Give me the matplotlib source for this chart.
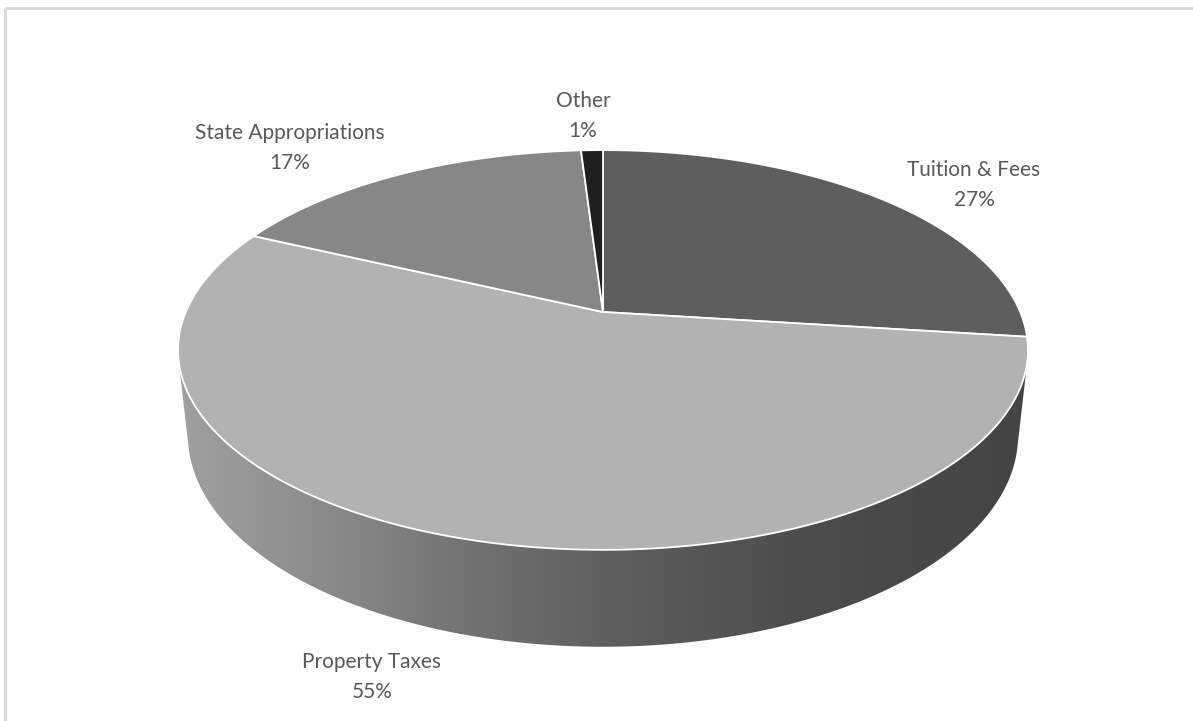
import numpy as np
import matplotlib
matplotlib.use("Agg")
from matplotlib import pyplot as plt
from matplotlib.patches import Polygon

# Daten
labels = ["Tuition & Fees", "Property Taxes", "State Appropriations", "Other"]
shares = [27, 55, 17, 1]
colors = ["#5e5e5e", "#b2b2b2", "#878787", "#1f1f1f"]
label_xy = [(974, 185), (372, 677), (290, 148), (583, 116)]

# 3D-Projektion (Pixelkoordinaten)
cx, cy = 603, 312
elev = np.radians(27.5)
dist = 4.669
focal = 1948
thick = 0.233


def project(t_deg, z=0.0):
    t = np.radians(t_deg)
    x, y = np.cos(t), np.sin(t)
    depth = y * np.cos(elev) + dist - z * np.sin(elev)
    sx = focal * x / depth
    sy = focal * (y * np.sin(elev) + z * np.cos(elev)) / depth
    return cx + sx, cy - sy


fig = plt.figure(figsize=(11.93, 7.21), dpi=100)
ax = fig.add_axes([0, 0, 1, 1])
ax.set_xlim(0, 1193)
ax.set_ylim(721, 0)
ax.axis("off")

# Rahmen
ax.plot([5, 5], [721, 8], color="#d9d9d9", lw=2.2, solid_capstyle="butt")
ax.plot([5, 1193], [8, 8], color="#d9d9d9", lw=2.2, solid_capstyle="butt")

total = float(sum(shares))
cum = np.concatenate([[0], np.cumsum(shares)]) / total
starts = 90 - 360 * cum[:-1]
ends = 90 - 360 * cum[1:]

# sichtbarer Bereich der Seitenwand
s0 = np.degrees(np.arcsin(-1 / (dist * np.cos(elev))))
vis_lo, vis_hi = -180 - s0, s0

# Schattierung der Wand entlang x
shade_x = [178, 300, 450, 600, 800, 1028]
shade_f = [0.90, 0.80, 0.66, 0.54, 0.43, 0.38]

for i in range(len(shares)):
    lo, hi = ends[i], starts[i]
    for shift in (-360, 0, 360):
        a, b = max(lo + shift, vis_lo), min(hi + shift, vis_hi)
        if a >= b:
            continue
        ts = np.linspace(a, b, 300)
        tx, ty = project(ts, 0)
        bx, by = project(ts[::-1], -thick)
        verts = np.column_stack([np.concatenate([tx, bx]), np.concatenate([ty, by])])
        patch = Polygon(verts, closed=True, facecolor="none", edgecolor="none")
        ax.add_patch(patch)
        x0, x1 = verts[:, 0].min() - 2, verts[:, 0].max() + 2
        y0, y1 = verts[:, 1].min() - 2, verts[:, 1].max() + 2
        xs = np.linspace(x0, x1, 400)
        base = matplotlib.colors.to_rgb(colors[i])[0]
        g = np.clip(base * np.interp(xs, shade_x, shade_f), 0, 1)
        img = np.repeat(g[None, :, None], 3, axis=2)
        im = ax.imshow(img, extent=(x0, x1, y1, y0), aspect="auto",
                       interpolation="bilinear", zorder=1)
        im.set_clip_path(patch)

# Oberseite
for i in range(len(shares)):
    ts = np.linspace(starts[i], ends[i], 200)
    px, py = project(ts, 0)
    verts = np.column_stack([np.concatenate([[cx], px]), np.concatenate([[cy], py])])
    ax.add_patch(Polygon(verts, closed=True, facecolor=colors[i],
                         edgecolor="white", lw=1.3, joinstyle="round", zorder=2))

# Beschriftungen
for name, val, (lx, ly) in zip(labels, shares, label_xy):
    ax.text(lx, ly, f"{name}\n{val}%", ha="center", va="center",
            fontsize=15, color="#595959", family="Lato", linespacing=1.6, zorder=3)

fig.savefig("out.png", dpi=100)
